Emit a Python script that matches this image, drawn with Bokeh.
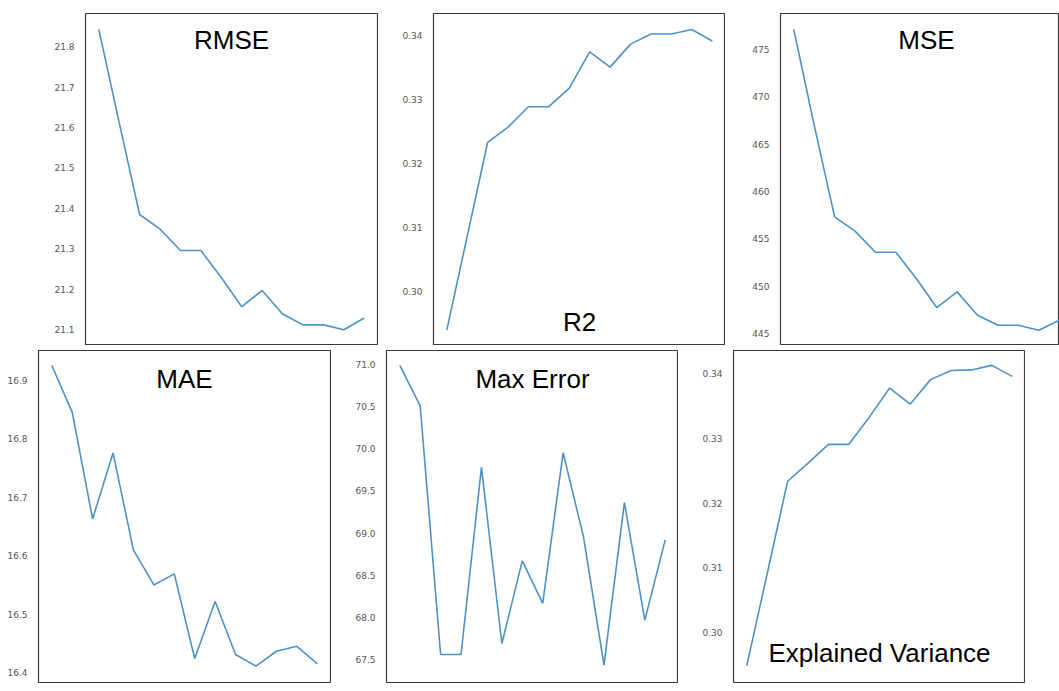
from bokeh.plotting import figure
from bokeh.layouts import column, row
from bokeh.models import Range1d, FixedTicker, NumeralTickFormatter, Label
from bokeh.embed import file_html
from bokeh.resources import INLINE

# ---------------- data ----------------
steps = list(range(14))

rmse = [21.843, 21.612, 21.385, 21.349, 21.296, 21.296, 21.229, 21.157,
        21.197, 21.139, 21.112, 21.112, 21.100, 21.129]
r2 = [0.2939, 0.3086, 0.3233, 0.3257, 0.3289, 0.3289, 0.3318, 0.3375,
      0.3351, 0.3387, 0.3403, 0.3403, 0.3410, 0.3392]
mse = [477.07, 467.0, 457.33, 455.82, 453.6, 453.6, 450.83, 447.77,
       449.42, 446.96, 445.91, 445.91, 445.38, 446.43]
mae = [16.9256, 16.8459, 16.663, 16.776, 16.6097, 16.55, 16.569, 16.424,
       16.5217, 16.431, 16.411, 16.4365, 16.445, 16.4154]
max_err = [70.99, 70.51, 67.56, 67.56, 69.78, 67.69, 68.67, 68.166,
           69.953, 68.953, 67.433, 69.362, 67.968, 68.92]
expl_var = [0.2949, 0.3091, 0.3234, 0.3262, 0.3291, 0.3291, 0.3333, 0.3378,
            0.3353, 0.3391, 0.3405, 0.3406, 0.3413, 0.3396]

rmse_ticks = [21.1, 21.2, 21.3, 21.4, 21.5, 21.6, 21.7, 21.8]
r2_ticks = [0.30, 0.31, 0.32, 0.33, 0.34]
mse_ticks = [445, 450, 455, 460, 465, 470, 475]
mae_ticks = [16.4, 16.5, 16.6, 16.7, 16.8, 16.9]
max_ticks = [67.5, 68.0, 68.5, 69.0, 69.5, 70.0, 70.5, 71.0]
ev_ticks = [0.30, 0.31, 0.32, 0.33, 0.34]

titles = ["RMSE", "R2", "MSE", "MAE", "Max Error", "Explained Variance"]

# ---------------- styling ----------------
LINE = "#4b92c8"
TICK_FONT = "DejaVu Sans"
TITLE_FONT = "Liberation Sans"
X0, X1 = -0.65, 13.65
UNIT_PX = 292 / (X1 - X0)


def panel(ys, ticks, fmt, y0, y1, title, title_frac, width, left, frame_h,
          top, bottom, right=1):
    frame_w = width - left - right
    x_end = X0 + frame_w / UNIT_PX
    p = figure(width=width, height=top + frame_h + bottom,
               x_range=Range1d(X0, x_end), y_range=Range1d(y0, y1),
               output_backend="svg", toolbar_location=None,
               x_axis_location=None,
               min_border_left=left, min_border_right=right,
               min_border_top=top, min_border_bottom=bottom)
    p.line(steps, ys, line_color=LINE, line_width=1.6)
    p.xgrid.visible = False
    p.ygrid.visible = False
    p.outline_line_color = "#3a3a3a"
    p.outline_line_width = 1.2
    ax = p.yaxis[0]
    ax.ticker = FixedTicker(ticks=ticks)
    ax.formatter = NumeralTickFormatter(format=fmt)
    ax.axis_line_color = None
    ax.major_tick_line_color = None
    ax.minor_tick_line_color = None
    ax.major_label_standoff = 5
    ax.major_label_text_font = TICK_FONT
    ax.major_label_text_font_size = "9px"
    ax.major_label_text_color = "#555555"
    tx = X0 + (292 / 2) / UNIT_PX
    ty = y1 - title_frac * (y1 - y0)
    p.add_layout(Label(x=tx, y=ty, text=title, text_align="center",
                       text_baseline="middle", text_font=TITLE_FONT,
                       text_font_size="26px", text_color="#000000"))
    p.background_fill_color = "white"
    p.border_fill_color = "white"
    return p


p_rmse = panel(rmse, rmse_ticks, "0.0", 21.061, 21.882, titles[0], 0.081,
               width=378, left=85, frame_h=332, top=13, bottom=0)
p_r2 = panel(r2, r2_ticks, "0.00", 0.2915, 0.3435, titles[1], 0.93,
             width=347, left=55, frame_h=332, top=13, bottom=0)
p_mse = panel(mse, mse_ticks, "0", 443.77, 478.76, titles[2], 0.081,
              width=334, left=55, frame_h=332, top=13, bottom=0, right=0)

p_mae = panel(mae, mae_ticks, "0.0", 16.383, 16.9513, titles[3], 0.085,
              width=331, left=38, frame_h=332, top=5, bottom=2)
p_max = panel(max_err, max_ticks, "0.0", 67.2275, 71.166, titles[4], 0.085,
              width=347, left=55, frame_h=332, top=5, bottom=2)
p_ev = panel(expl_var, ev_ticks, "0.00", 0.2923, 0.3436, titles[5], 0.91,
             width=347, left=55, frame_h=332, top=5, bottom=2)

layout = column(row(p_rmse, p_r2, p_mse), row(p_mae, p_max, p_ev))

open("out.html", "w").write(file_html(layout, INLINE))
